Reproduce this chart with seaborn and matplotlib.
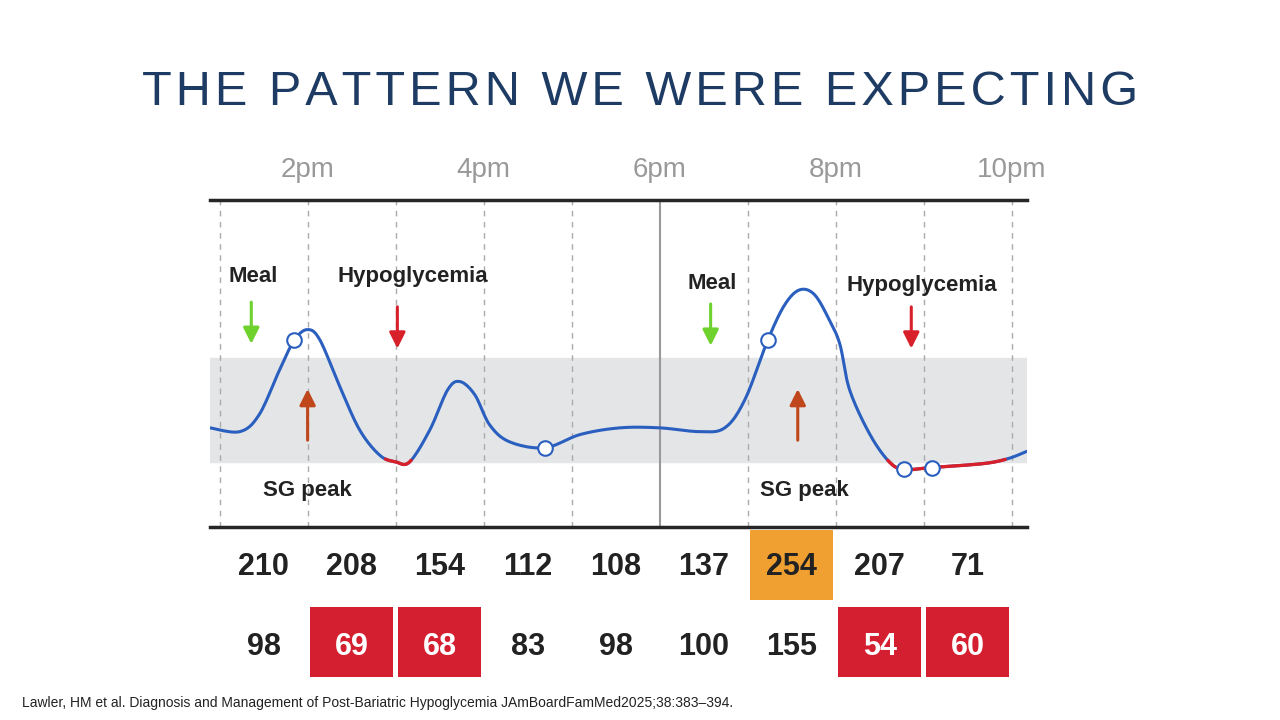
import numpy as np
import pandas as pd
import matplotlib
import matplotlib.pyplot as plt
import seaborn as sns

matplotlib.use('Agg')

# sensor glucose trace (hour of day, mg/dL)
trace_hours = [12.89, 13.23, 13.45, 13.68, 13.85, 14.0, 14.14, 14.36, 14.59, 14.82, 15.0,
               15.16, 15.39, 15.59, 15.73, 15.9, 16.07, 16.3, 16.7, 17.1, 17.55, 18.0,
               18.45, 18.74, 18.97, 19.23, 19.42, 19.59, 19.76, 19.93, 20.05, 20.16,
               20.39, 20.61, 20.78, 21.09, 21.41, 21.75, 21.98, 22.17]
trace_sg = [106, 102, 120, 167, 199, 210, 199, 151, 104, 77, 70,
            70, 104, 146, 155, 141, 109, 91, 85, 99, 106, 106,
            102, 106, 136, 199, 236, 252, 247, 220, 194, 146,
            99, 70, 62, 64, 66, 69, 74, 81]
marker_hours = [13.85, 16.7, 19.23, 20.78, 21.09]
marker_sg = [199, 85, 199, 62, 64]

tick_hours = [14, 16, 18, 20, 22]
tick_labels = ['2pm', '4pm', '6pm', '8pm', '10pm']

col_hours = [13.5, 14.5, 15.5, 16.5, 17.5, 18.5, 19.5, 20.5, 21.5]
row_max = [210, 208, 154, 112, 108, 137, 254, 207, 71]
row_min = [98, 69, 68, 83, 98, 100, 155, 54, 60]
high_cols = [6]
low_cols = [1, 2, 7, 8]

sns.set_style('white')
plt.rcParams['font.family'] = ['Liberation Sans', 'DejaVu Sans']


def smooth(xs, ys, n=12):
    # Catmull-Rom through the read points
    xs, ys = np.asarray(xs, float), np.asarray(ys, float)
    px = np.concatenate([[xs[0]], xs, [xs[-1]]])
    py = np.concatenate([[ys[0]], ys, [ys[-1]]])
    ox, oy = [], []
    for i in range(1, len(px) - 2):
        t = np.linspace(0, 1, n, endpoint=False)
        for p, o in ((px, ox), (py, oy)):
            p0, p1, p2, p3 = p[i - 1], p[i], p[i + 1], p[i + 2]
            o.extend(0.5 * (2 * p1 + (-p0 + p2) * t + (2 * p0 - 5 * p1 + 4 * p2 - p3) * t ** 2
                            + (-p0 + 3 * p1 - 3 * p2 + p3) * t ** 3))
    ox.append(xs[-1])
    oy.append(ys[-1])
    return np.array(ox), np.array(oy)


fig = plt.figure(figsize=(12.8, 7.2), dpi=100)
title = '\u200a'.join('THE PATTERN WE WERE EXPECTING')
fig.text(0.5, 0.872, title, ha='center', va='center', fontsize=35, color='#1d3b63')
fig.text(0.017, 0.018, 'Lawler, HM et al. Diagnosis and Management of Post-Bariatric Hypoglycemia '
         'JAmBoardFamMed2025;38:383\u2013394.', fontsize=10, color='#222222')

x0, x1 = 12.89, 22.17
ax = fig.add_axes([0.164, 0.268, 0.638, 0.454])
ax.set_xlim(x0, x1)
ax.set_ylim(1, 347)
ax.axhspan(70, 180, color='#e3e5e6', zorder=0)
for h in range(13, 23):
    if h == 18:
        ax.axvline(h, color='#999999', lw=1.5, zorder=1)
    else:
        ax.axvline(h, color='#aaaaaa', lw=1, ls=(0, (4, 4)), zorder=1)

sx, sy = smooth(trace_hours, trace_sg)
df = pd.DataFrame({'hour': sx, 'sg': sy})
sns.lineplot(data=df, x='hour', y='sg', ax=ax, color='#2a5fbf', lw=2.2, zorder=3, sort=False)
low = np.where(sy < 73, sy, np.nan)
ax.plot(sx, low, color='#d8202a', lw=2.4, zorder=4)
sns.scatterplot(x=marker_hours, y=marker_sg, ax=ax, s=110, facecolor='white',
                edgecolor='#2a5fbf', linewidth=1.5, zorder=5)


def arrow(h, ya, yb, c):
    ax.annotate('', xy=(h, yb), xytext=(h, ya),
                arrowprops=dict(arrowstyle='-|>', color=c, lw=2.2, mutation_scale=24), zorder=6)


arrow(13.36, 242, 192, '#6fd12e')
arrow(15.02, 237, 187, '#d8202a')
arrow(14.0, 90, 150, '#c0461c')
arrow(18.58, 240, 190, '#6fd12e')
arrow(19.57, 90, 150, '#c0461c')
arrow(20.86, 237, 187, '#d8202a')
for h, y, s in [(13.38, 266, 'Meal'), (15.2, 266, 'Hypoglycemia'), (14.0, 40, 'SG peak'),
                (18.6, 259, 'Meal'), (20.98, 257, 'Hypoglycemia'), (19.64, 40, 'SG peak')]:
    ax.text(h, y, s, ha='center', va='center', fontsize=16, fontweight='bold', color='#222222')

ax.set_xticks(tick_hours)
ax.set_xticklabels(tick_labels, fontsize=20, color='#999999')
ax.xaxis.tick_top()
ax.tick_params(axis='x', length=0, pad=12)
ax.set_yticks([])
for side in ['left', 'right']:
    ax.spines[side].set_visible(False)
ax.spines['top'].set_linewidth(2.5)
ax.spines['bottom'].set_linewidth(2.5)
ax.set_xlabel('')
ax.set_ylabel('')

tab = fig.add_axes([0.164, 0.06, 0.638, 0.208])
tab.set_xlim(x0, x1)
tab.set_ylim(150, 0)
tab.axis('off')
for i, (h, a, b) in enumerate(zip(col_hours, row_max, row_min)):
    ca, cb = '#222222', '#222222'
    if i in high_cols:
        tab.add_patch(plt.Rectangle((h - 0.47, 3), 0.94, 70, color='#f0a030', lw=0))
    if i in low_cols:
        tab.add_patch(plt.Rectangle((h - 0.47, 80), 0.94, 70, color='#d41f30', lw=0))
        cb = 'white'
    tab.text(h, 40, str(a), ha='center', va='center', fontsize=22, fontweight='bold', color=ca)
    tab.text(h, 120, str(b), ha='center', va='center', fontsize=22, fontweight='bold', color=cb)

fig.savefig('out.png', dpi=100)
